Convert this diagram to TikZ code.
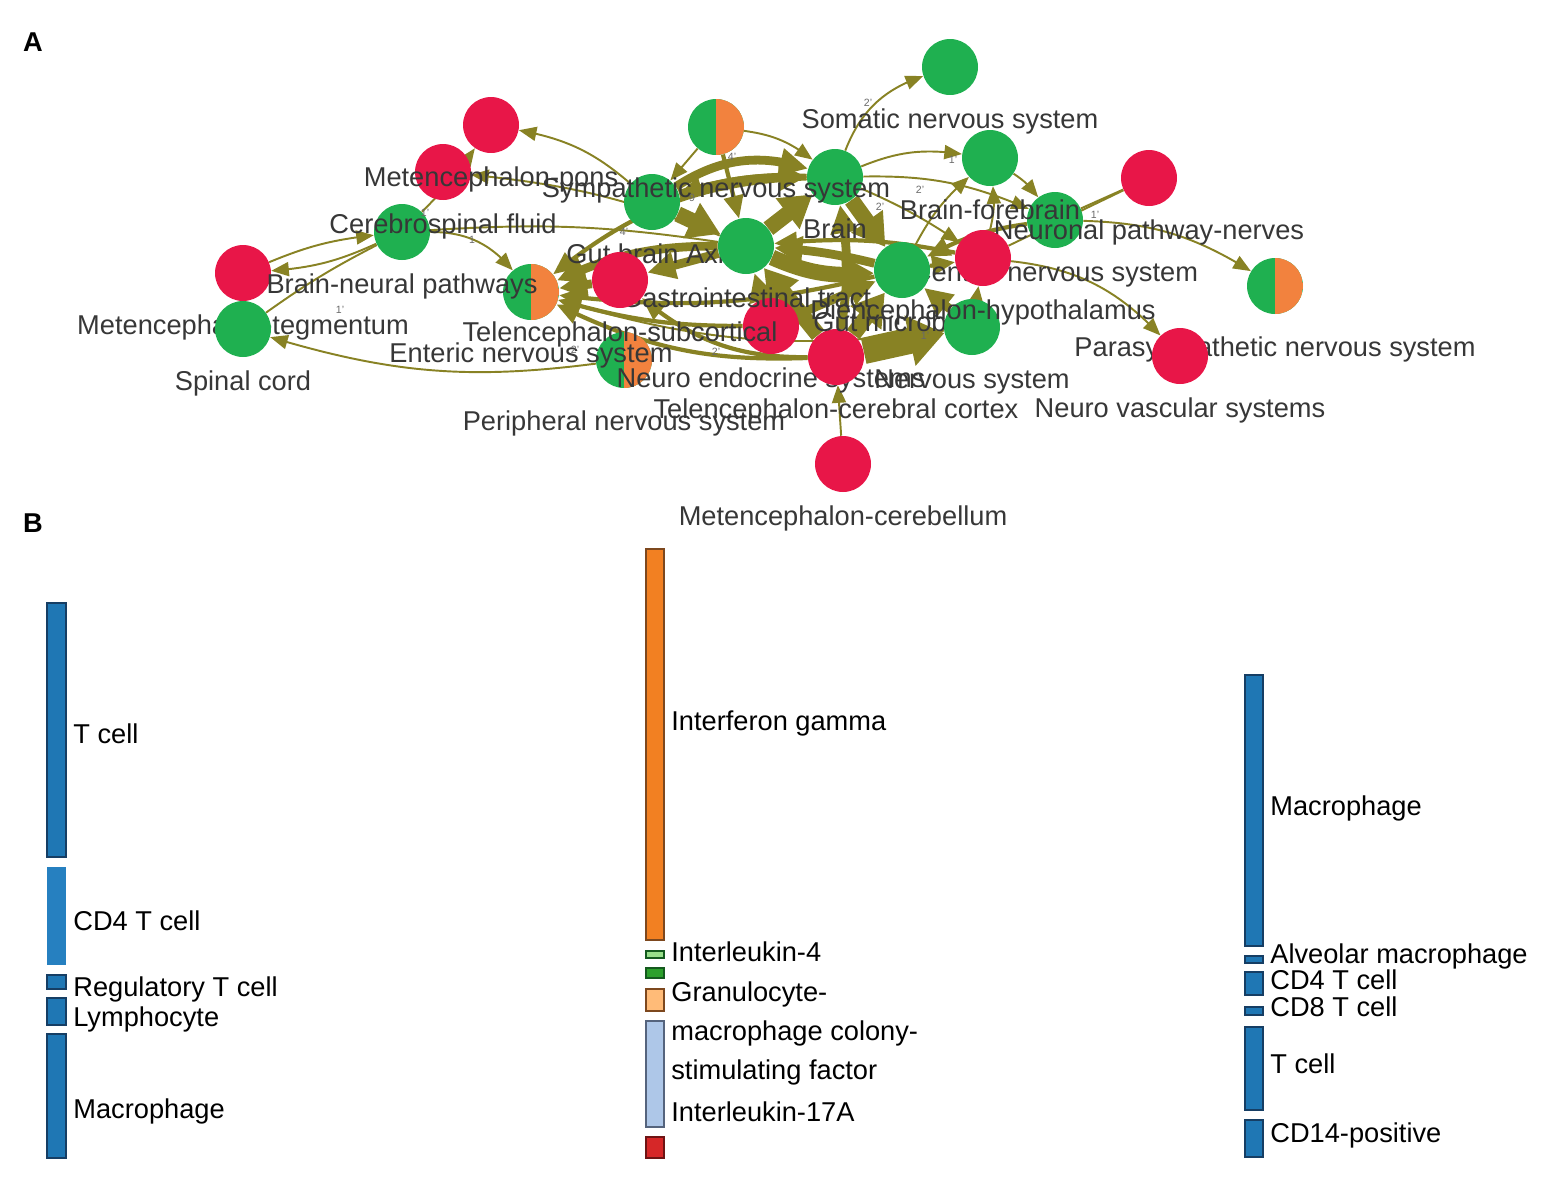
\documentclass[tikz,border=0pt]{standalone}
\usepackage{fontspec}
\setmainfont{Liberation Sans}
\usepackage{tikz}
\usetikzlibrary{positioning}
\usetikzlibrary{arrows.meta, bending}
\pgfdeclarelayer{bg}
\pgfsetlayers{bg,main}
\definecolor{netred}{RGB}{232,22,72}
\definecolor{netgreen}{RGB}{31,176,80}
\definecolor{netorange}{RGB}{242,130,62}
\definecolor{edgeolive}{RGB}{136,130,36}
\definecolor{labgray}{RGB}{55,55,55}
\definecolor{barblue}{RGB}{31,119,180}
\definecolor{barblueB}{RGB}{38,128,192}
\definecolor{barnavy}{RGB}{22,62,100}
\definecolor{barorange}{RGB}{242,128,34}
\definecolor{barbrown}{RGB}{125,72,30}
\definecolor{barlgreen}{RGB}{152,223,138}
\definecolor{bardgreen}{RGB}{44,160,44}
\definecolor{bardkgreen}{RGB}{20,90,30}
\definecolor{barlorange}{RGB}{255,187,120}
\definecolor{barlblue}{RGB}{174,199,232}
\definecolor{barslate}{RGB}{85,100,125}
\definecolor{barred}{RGB}{214,39,40}
\definecolor{bardred}{RGB}{110,20,20}
\tikzstyle{rednode} = [circle, minimum size=1.12cm, inner sep=0pt, fill=netred]
\tikzstyle{greennode} = [circle, minimum size=1.12cm, inner sep=0pt, fill=netgreen]
\tikzstyle{pienode} = [circle, minimum size=1.12cm, inner sep=0pt, fill=netgreen, path picture={\fill[netorange] (path picture bounding box.north) rectangle (path picture bounding box.south east);}]
\tikzstyle{nlbl} = [font=\fontsize{15.5}{18}\selectfont, text=labgray, inner sep=0pt, text height=11pt, text depth=3pt, yshift=-1.08cm]
\tikzstyle{plbl} = [nlbl, yshift=-0.18cm]
\tikzstyle{blbl} = [font=\fontsize{15.5}{18}\selectfont, anchor=west, inner sep=0pt, text height=11pt, text depth=3pt]
\tikzstyle{wlbl} = [font=\fontsize{6}{7}\selectfont, text=labgray!75, inner sep=0pt]
\tikzstyle{lnk} = [draw=edgeolive, line width=1.1pt, -{Triangle[length=10pt,width=8pt]}]
\tikzstyle{mlnk} = [lnk, line width=2.4pt, -{Triangle[length=13pt,width=11pt]}]
\tikzstyle{tlnk} = [lnk, line width=5pt, -{Triangle[length=16pt,width=15pt]}]
\tikzstyle{xlnk} = [lnk, line width=9pt, -{Triangle[length=18pt,width=21pt]}]
\tikzstyle{ylnk} = [lnk, line width=15pt, -{Triangle[length=20pt,width=28pt]}]
\tikzstyle{plain} = [draw=edgeolive, line width=1.1pt]
\tikzstyle{bar} = [line width=1pt]

\begin{document}
\begin{tikzpicture}[x=0.02cm, y=-0.02cm]
\useasboundingbox (0,0) rectangle (1562,1187);
\node[font=\fontsize{15.5}{18}\selectfont\bfseries] (pa) at (33,42) {A};
\node[font=\fontsize{15.5}{18}\selectfont\bfseries] (pb) at (33,523) {B};
% network nodes, later ones lie on top
\draw (243,273) node (mteg) [rednode, label={[nlbl]center:Metencephalon-tegmentum}] {};
\draw (243,329) node (spc) [greennode, label={[nlbl]center:Spinal cord}] {};
\draw (624,360) node (pns) [pienode, label={[plbl]center:Peripheral nervous system}] {};
\draw (771,326) node (nes) [rednode, label={[nlbl]center:Neuro endocrine systems}] {};
\draw (836,357) node (tcc) [rednode, label={[nlbl]center:Telencephalon-cerebral cortex}] {};
\draw (652,202) node (gba) [greennode, label={[nlbl]center:Gut brain Axis}] {};
\draw (746,246) node (git) [greennode, label={[nlbl]center:Gastrointestinal tract}] {};
\draw (620,280) node (tsub) [rednode, label={[nlbl]center:Telencephalon-subcortical}] {};
\draw (835,177) node (brain) [greennode, label={[nlbl]center:Brain}] {};
\draw (716,127) node (sns) [pienode, label={[plbl]center:Sympathetic nervous system}] {};
\draw (950,67) node (soma) [greennode, label={[nlbl]center:Somatic nervous system}] {};
\draw (1055,220) node (cns) [greennode, label={[nlbl]center:Central nervous system}] {};
\draw (990,158) node (bfb) [greennode, label={[nlbl]center:Brain-forebrain}] {};
\draw (1149,178) node (npn) [rednode, label={[nlbl]center:Neuronal pathway-nerves}] {};
\draw (902,270) node (gmb) [greennode, label={[nlbl]center:Gut microbiota}] {};
\draw (972,327) node (nsys) [greennode, label={[nlbl]center:Nervous system}] {};
\draw (983,258) node (dhyp) [rednode, label={[nlbl]center:Diencephalon-hypothalamus}] {};
\draw (531,292) node (ens) [pienode, label={[plbl]center:Enteric nervous system}] {};
\draw (402,232) node (bnp) [greennode, label={[nlbl]center:Brain-neural pathways}] {};
\draw (443,172) node (csf) [rednode, label={[nlbl]center:Cerebrospinal fluid}] {};
\draw (491,125) node (mpons) [rednode, label={[nlbl]center:Metencephalon-pons}] {};
\draw (1275,286) node (psns) [pienode, label={[plbl]center:Parasympathetic nervous system}] {};
\draw (1180,356) node (nvs) [rednode, label={[nlbl]center:Neuro vascular systems}] {};
\draw (843,464) node (mcb) [rednode, label={[nlbl]center:Metencephalon-cerebellum}] {};
% edges go under the nodes
\begin{pgfonlayer}{bg}
\draw[lnk] (bnp) to[bend left=10] (mteg);
\draw[lnk] (mteg) to[bend left=8] (bnp);
\draw[plain] (bnp) to[bend right=4] (spc);
\draw[lnk] (pns) to[bend left=12] (spc);
\draw[lnk] (bnp) to[bend right=5] (mpons);
\draw[lnk] (gba) to[bend right=15] (mpons);
\draw[lnk] (git) to[bend right=8] (csf);
\draw[lnk] (bnp) to[bend left=25] (ens);
\draw[plain] (bnp) to[bend left=6] (git);
\draw[tlnk] (tsub) -- (ens);
\draw[tlnk] (git) to[bend right=12] (ens);
\draw[mlnk] (nes) to[bend left=8] (ens);
\draw[mlnk] (tcc) to[bend left=14] (ens);
\draw[mlnk] (brain) to[bend right=18] (ens);
\draw[lnk] (nsys) to[bend left=12] (ens);
\draw[mlnk] (gmb) to[bend left=10] (ens);
\draw[lnk] (sns) to[bend left=15] (brain);
\draw[lnk] (sns) -- (gba);
\draw[mlnk] (sns) -- (git);
\draw[tlnk] (gba) to[bend left=25] (brain);
\draw[xlnk] (git) -- (brain);
\draw[xlnk] (gba) -- (git);
\draw[tlnk] (gba) to[bend left=8] (brain);
\draw[mlnk] (brain) to[bend right=10] (gba);
\draw[lnk] (brain) to[bend left=25] (soma);
\draw[lnk] (brain) to[bend left=15] (bfb);
\draw[lnk] (brain) to[bend left=12] (cns);
\draw[lnk] (brain) to[bend left=5] (dhyp);
\draw[xlnk] (brain) -- (gmb);
\draw[lnk] (bfb) to[bend left=10] (cns);
\draw[lnk] (gmb) to[bend left=10] (bfb);
\draw[lnk] (dhyp) to[bend right=10] (bfb);
\draw[lnk] (cns) to[bend left=15] (psns);
\draw[lnk] (dhyp) to[bend left=20] (nvs);
\draw[plain] (npn) -- (dhyp);
\draw[plain] (npn) -- (cns);
\draw[lnk] (mcb) -- (tcc);
\draw[xlnk] (tcc) -- (gmb);
\draw[ylnk] (tcc) -- (nsys);
\draw[xlnk] (tcc) -- (git);
\draw[tlnk] (nes) -- (git);
\draw[tlnk] (tcc) to[bend right=10] (brain);
\draw[xlnk] (git) to[bend right=15] (gmb);
\draw[tlnk] (gmb) to[bend right=5] (git);
\draw[tlnk] (nes) -- (gmb);
\draw[mlnk] (gmb) -- (dhyp);
\draw[mlnk] (nsys) -- (dhyp);
\draw[tlnk] (nsys) -- (gmb);
\draw[tlnk] (git) -- (tsub);
\draw[mlnk] (tcc) to[bend left=20] (tsub);
\draw[mlnk] (cns) to[bend right=10] (gmb);
\draw[mlnk] (dhyp) to[bend right=8] (git);
\end{pgfonlayer}
% edge weights
\node[wlbl] (w1) at (868,103) {2'};
\node[wlbl] (w2) at (953,160) {1'};
\node[wlbl] (w3) at (732,157) {4'};
\node[wlbl] (w4) at (920,190) {2'};
\node[wlbl] (w5) at (880,207) {2'};
\node[wlbl] (w6) at (425,213) {1'};
\node[wlbl] (w7) at (472,240) {1};
\node[wlbl] (w8) at (340,310) {1'};
\node[wlbl] (w9) at (575,350) {2'};
\node[wlbl] (w10) at (716,352) {2'};
\node[wlbl] (w11) at (624,232) {4'};
\node[wlbl] (w12) at (692,198) {9};
\node[wlbl] (w13) at (1095,215) {1'};
\node[wlbl] (w14) at (925,336) {1'};
% B: first column
\draw[bar, fill=barblue, draw=barnavy] (47,603) rectangle (66,857);
\fill[barblueB] (47,867) rectangle (66,965);
\draw[bar, fill=barblue, draw=barnavy] (47,975) rectangle (66,989);
\draw[bar, fill=barblue, draw=barnavy] (47,998) rectangle (66,1025);
\draw[bar, fill=barblue, draw=barnavy] (47,1034) rectangle (66,1158);
\node[blbl] (atcell) at (73,736) {T cell};
\node[blbl] (acdfour) at (73,923) {CD4 T cell};
\node[blbl] (atreg) at (73,989) {Regulatory T cell};
\node[blbl] (alymph) at (73,1019) {Lymphocyte};
\node[blbl] (amacro) at (73,1111) {Macrophage};
% B: second column
\draw[bar, fill=barorange, draw=barbrown] (646,549) rectangle (664,940);
\draw[bar, fill=barlgreen, draw=bardkgreen] (646,951) rectangle (664,958);
\draw[bar, fill=bardgreen, draw=bardkgreen] (646,968) rectangle (664,978);
\draw[bar, fill=barlorange, draw=barbrown] (646,989) rectangle (664,1011);
\draw[bar, fill=barlblue, draw=barslate] (646,1021) rectangle (664,1127);
\draw[bar, fill=barred, draw=bardred] (646,1137) rectangle (664,1158);
\node[blbl] (bifng) at (671,723) {Interferon gamma};
\node[blbl] (bilfour) at (671,954) {Interleukin-4};
\node[blbl] (bgmone) at (671,994) {Granulocyte-};
\node[blbl] (bgmtwo) at (671,1033) {macrophage colony-};
\node[blbl] (bgmthree) at (671,1072) {stimulating factor};
\node[blbl] (bilseventeen) at (671,1114) {Interleukin-17A};
% B: third column
\draw[bar, fill=barblue, draw=barnavy] (1245,675) rectangle (1263,946);
\draw[bar, fill=barblue, draw=barnavy] (1245,956) rectangle (1263,963);
\draw[bar, fill=barblue, draw=barnavy] (1245,972) rectangle (1263,995);
\draw[bar, fill=barblue, draw=barnavy] (1245,1007) rectangle (1263,1015);
\draw[bar, fill=barblue, draw=barnavy] (1245,1027) rectangle (1263,1110);
\draw[bar, fill=barblue, draw=barnavy] (1245,1120) rectangle (1263,1157);
\node[blbl] (cmacro) at (1270,808) {Macrophage};
\node[blbl] (calveo) at (1270,956) {Alveolar macrophage};
\node[blbl] (ccdfour) at (1270,982) {CD4 T cell};
\node[blbl] (ccdeight) at (1270,1009) {CD8 T cell};
\node[blbl] (ctcell) at (1270,1066) {T cell};
\node[blbl] (ccdfourteen) at (1270,1135) {CD14-positive};
\end{tikzpicture}
\end{document}
